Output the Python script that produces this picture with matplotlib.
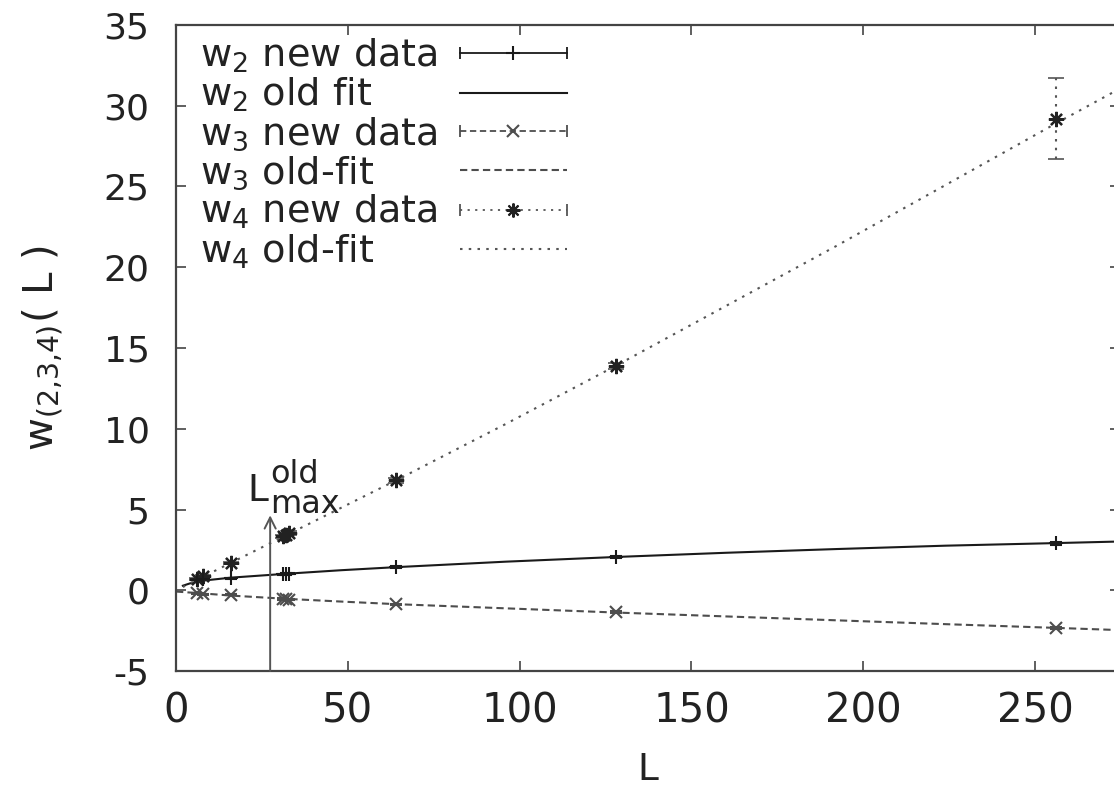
import matplotlib
matplotlib.use("Agg")
import matplotlib.pyplot as plt
from matplotlib.lines import Line2D
from matplotlib.legend_handler import HandlerLine2D, HandlerTuple

# new data points (L, value)
L_new = [6, 8, 16, 31, 32, 33, 64, 128, 256]
w2_new = [0.65, 0.72, 0.75, 0.98, 1.0, 1.02, 1.45, 2.05, 2.9]
w2_err = [0.03, 0.03, 0.03, 0.04, 0.04, 0.04, 0.05, 0.06, 0.08]
w3_new = [-0.2, -0.25, -0.28, -0.55, -0.57, -0.59, -0.88, -1.35, -2.35]
w3_err = [0.03, 0.03, 0.03, 0.04, 0.04, 0.04, 0.05, 0.06, 0.08]
w4_new = [0.7, 0.9, 1.7, 3.35, 3.45, 3.55, 6.8, 13.9, 29.2]
w4_err = [0.05, 0.05, 0.08, 0.1, 0.1, 0.1, 0.15, 0.2, 2.5]

# old fits, sampled from the curves in the figure
L_fit = [2, 4, 8, 16, 32, 48, 64, 96, 128, 160, 192, 224, 256, 275]
w2_fit = [0.28, 0.42, 0.6, 0.78, 1.02, 1.24, 1.43, 1.77, 2.06, 2.32, 2.55, 2.76, 2.92, 3.02]
L3_fit = [0, 4, 8, 16, 32, 48, 64, 96, 128, 160, 192, 224, 256, 275]
w3_fit = [-0.08, -0.14, -0.2, -0.33, -0.53, -0.7, -0.86, -1.12, -1.38, -1.62, -1.86, -2.1, -2.33, -2.47]
w4_fit = [0.2, 0.42, 0.85, 1.7, 3.4, 5.1, 6.8, 10.3, 13.9, 17.6, 21.3, 25.1, 28.9, 31.1]

L_old_max = 27.4
x_ticks = [0, 50, 100, 150, 200, 250]
y_ticks = [-5, 0, 5, 10, 15, 20, 25, 30, 35]

labels = [r"$\mathregular{w_2}$ new data", r"$\mathregular{w_2}$ old fit",
          r"$\mathregular{w_3}$ new data", r"$\mathregular{w_3}$ old-fit",
          r"$\mathregular{w_4}$ new data", r"$\mathregular{w_4}$ old-fit"]

c2 = "#1a1a1a"
c3 = "#4d4d4d"
c4 = "#555555"
dash = (0, (3.5, 2))
dot = (0, (1.2, 3))
star = (8, 2, 0)

fig = plt.figure(figsize=(11.14, 7.9), dpi=100)
ax = fig.add_axes([176 / 1114, 1 - 671 / 790, (1120 - 176) / 1114, (671 - 25) / 790])

# fits first, data on top
ax.plot(L_fit, w2_fit, color=c2, lw=1.5, ls="-")
ax.plot(L3_fit, w3_fit, color=c3, lw=1.5, ls=dash)
ax.plot(L_fit, w4_fit, color=c4, lw=1.5, ls=dot)

ax.errorbar(L_new, w2_new, yerr=w2_err, fmt="+", color=c2, ms=10, mew=1.5,
            elinewidth=1.2, capsize=4)
ax.errorbar(L_new, w3_new, yerr=w3_err, fmt="x", color=c3, ms=9, mew=1.5,
            elinewidth=1.2, capsize=4)
eb4 = ax.errorbar(L_new, w4_new, yerr=w4_err, fmt="none", ecolor=c4,
                  elinewidth=1.5, capsize=6, capthick=1.2)
eb4[2][0].set_linestyle(dot)
ax.plot(L_new, w4_new, ls="none", marker=star, color="#222222", ms=11, mew=1.6)

# L_max^old marker
ax.annotate("", xy=(L_old_max, 4.64), xytext=(L_old_max, -5),
            arrowprops=dict(arrowstyle="->,head_length=0.5,head_width=0.25",
                            color="#555555", lw=1.4, shrinkA=0, shrinkB=0,
                            mutation_scale=16))
ax.text(20.9, 5.5, "L", fontsize=27, color="#222222", ha="left", va="baseline")
ax.annotate("old", xy=(20.9, 5.5), xytext=(16, 13.5), textcoords="offset points",
            fontsize=23, color="#222222", ha="left", va="baseline")
ax.annotate("max", xy=(20.9, 5.5), xytext=(16, -8), textcoords="offset points",
            fontsize=23, color="#222222", ha="left", va="baseline")

ax.set_xlim(0, 274.7)
ax.set_ylim(-5, 35)
ax.set_xticks(x_ticks)
ax.set_yticks(y_ticks)
ax.set_yticklabels([str(v) for v in y_ticks])
ax.tick_params(direction="in", top=True, right=True, length=7, width=1.2,
               color="#444444", labelcolor="#222222")
ax.tick_params(axis="x", labelsize=29, pad=15)
ax.tick_params(axis="y", labelsize=26, pad=19)
for s in ax.spines.values():
    s.set_linewidth(1.6)
    s.set_color("#444444")

ax.set_xlabel("L", fontsize=27, color="#222222")
ax.xaxis.set_label_coords(0.5, -0.125)
ax.set_ylabel(r"$\mathregular{w_{(2{,}3{,}4)}}$( L )", fontsize=29, color="#222222")
ax.yaxis.set_label_coords(-0.118, 0.5)

# legend, gnuplot style: samples on the right, error bar samples with caps
def caps(color, ls):
    return Line2D([], [], color=color, ls=ls, lw=1.3, marker="|", ms=9, mew=1.3)

cap2 = caps(c2, "-")
cap3 = caps(c3, dash)
cap4 = caps(c4, dot)
handles = [
    (cap2, Line2D([], [], ls="none", marker="+", color=c2, ms=10, mew=1.5)),
    Line2D([], [], color=c2, lw=1.5),
    (cap3, Line2D([], [], ls="none", marker="x", color=c3, ms=8, mew=1.5)),
    Line2D([], [], color=c3, lw=1.5, ls=dash),
    (cap4, Line2D([], [], ls="none", marker=star, color="#222222", ms=10, mew=1.5)),
    Line2D([], [], color=c4, lw=1.5, ls=dot),
]
hmap = {cap2: HandlerLine2D(numpoints=2, marker_pad=0),
        cap3: HandlerLine2D(numpoints=2, marker_pad=0),
        cap4: HandlerLine2D(numpoints=2, marker_pad=0),
        tuple: HandlerTuple(ndivide=1)}
leg = ax.legend(handles, labels, loc="upper left", bbox_to_anchor=(0.025, 0.982),
                markerfirst=False, frameon=False, fontsize=27.5, handlelength=2.8,
                handletextpad=0.3, labelspacing=0.03, borderpad=0, borderaxespad=0,
                handler_map=hmap)
for t in leg.get_texts():
    t.set_color("#222222")
# keep the key text left-aligned and the samples in one column
for entry in leg._legend_handle_box.get_children()[0].get_children():
    entry.mode = "expand"
    entry.width = 367

fig.savefig("out.png", dpi=100)
